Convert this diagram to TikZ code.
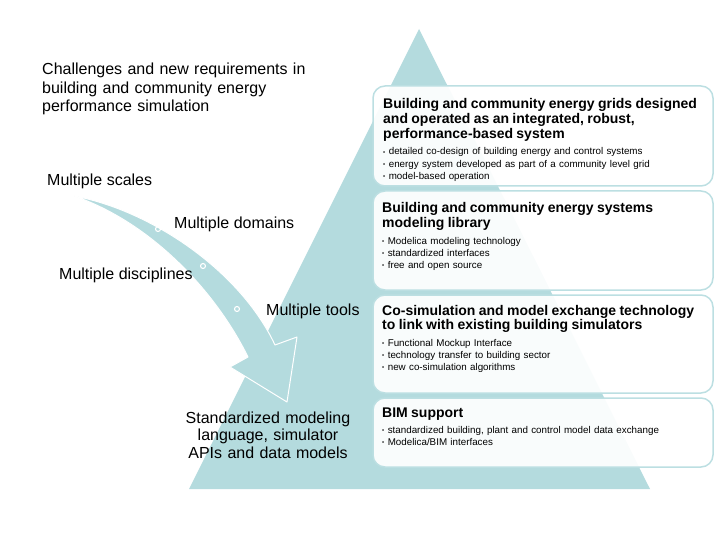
\documentclass[tikz,border=0pt]{standalone}
\usepackage{fontspec}
\setmainfont{Liberation Sans}
\usetikzlibrary{positioning,calc}
\definecolor{pyrteal}{RGB}{180,219,222}
\definecolor{edgeteal}{RGB}{188,223,226}
\newcommand{\bul}{\raisebox{0.7pt}{\fontsize{6}{6}\selectfont\textbullet}\hspace{3.5pt}}
\newcommand{\boxtitle}{\fontsize{14}{14.8}\selectfont\bfseries}
\newcommand{\boxitems}{\par\vspace{4pt}\fontsize{9.8}{12.4}\selectfont\mdseries}

\begin{document}
\begin{tikzpicture}[x=1pt, y=-1pt, line join=round,
  panel/.style={draw=edgeteal, line width=1.5pt, fill=white, fill opacity=0.92, rounded corners=12pt},
  boxtext/.style={anchor=base west, inner sep=0pt, text width=325pt, align=left},
  lefttext/.style={anchor=base west, inner sep=0pt, font=\fontsize{16}{18.5}\selectfont}]
  \useasboundingbox (0,0) rectangle (720,540);

  % Pyramid
  \coordinate (A) at (189,489);
  \coordinate (B) at (650,489);
  \coordinate (C) at (419,29);
  \fill[pyrteal] (A) -- (B) -- (C) -- cycle;

  % Panels (top, bottom)
  \foreach \top/\bot in {86/186, 191/290, 295/393, 398/467}
    \draw[panel] (373,\top) rectangle (713,\bot);

  \node[boxtext] (grid) at (383,109) {\boxtitle
    Building and community energy grids designed\\
    and operated as an integrated, robust,\\
    performance-based system
    \boxitems
    \bul detailed co-design of building energy and control systems\par
    \bul energy system developed as part of a community level grid\par
    \bul model-based operation};

  \node[boxtext] (library) at (382,213) {\boxtitle
    Building and community energy systems\\
    modeling library
    \boxitems
    \bul Modelica modeling technology\par
    \bul standardized interfaces\par
    \bul free and open source};

  \node[boxtext] (cosim) at (382,315) {\boxtitle
    Co-simulation and model exchange technology\\
    to link with existing building simulators
    \boxitems
    \bul Functional Mockup Interface\par
    \bul technology transfer to building sector\par
    \bul new co-simulation algorithms};

  \node[boxtext] (bim) at (382,417) {\boxtitle
    BIM support
    \boxitems
    \bul standardized building, plant and control model data exchange\par
    \bul Modelica/BIM interfaces};

  % Curved arrow
  \coordinate (T)  at (74,196);
  \coordinate (R1) at (275,345);
  \coordinate (RB) at (297,337);
  \coordinate (tip) at (287,402);
  \coordinate (LB) at (230,367);
  \coordinate (L1) at (248,357);
  \filldraw[fill=pyrteal, draw=white, line width=1pt]
    (T) .. controls (150,210) and (240,270) .. (R1)
    -- (RB) -- (tip) -- (LB) -- (L1)
    .. controls (215,290) and (150,222) .. (T) -- cycle;

  % Dots on the arrow
  \foreach \d in {(158,229),(203,266),(237,309)}
    \draw[white, line width=1.1pt] \d circle (2.5pt);

  % Left labels
  \node[lefttext, text width=300pt, align=left] (challenges) at (42,75)
    {Challenges and new requirements in\\
     building and community energy\\
     performance simulation};
  \node[lefttext] (scales) at (47,186) {Multiple scales};
  \node[lefttext] (domains) at (174,229) {Multiple domains};
  \node[lefttext] (disciplines) at (59,279) {Multiple disciplines};
  \node[lefttext] (tools) at (266,315) {Multiple tools};
  \node[anchor=base, inner sep=0pt, text width=200pt, align=center,
        font=\fontsize{16}{17.5}\selectfont] (standard) at (268,423)
    {Standardized modeling\\ language, simulator\\ APIs and data models};
\end{tikzpicture}
\end{document}
